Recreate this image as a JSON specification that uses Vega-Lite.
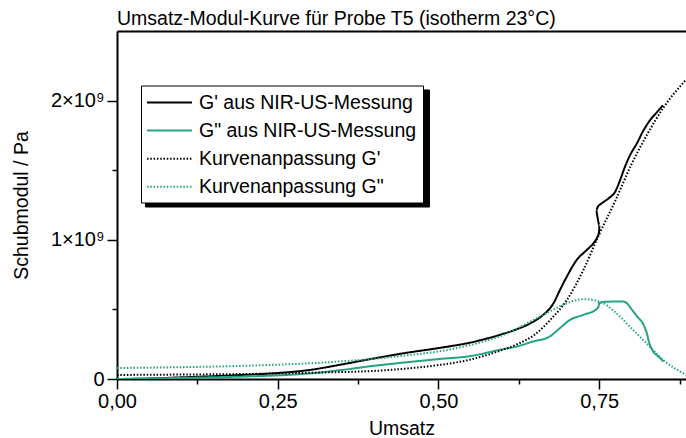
{
  "$schema": "https://vega.github.io/schema/vega-lite/v6.json",
  "width": 569,
  "height": 348,
  "autosize": {"type": "none"},
  "padding": {"left": 117, "top": 31, "right": 0, "bottom": 59},
  "background": "white",
  "title": {"text": "Umsatz-Modul-Kurve für Probe T5 (isotherm 23°C)", "anchor": "start", "frame": "group", "font": "Liberation Sans", "fontSize": 19.5, "fontWeight": "normal", "color": "black", "offset": 2},
  "config": {
    "view": {"stroke": null},
    "axis": {"domainColor": "black", "domainWidth": 2, "tickColor": "black", "tickWidth": 1.5, "labelFont": "Liberation Sans", "labelFontSize": 20, "labelColor": "black", "titleFont": "Liberation Sans", "titleFontSize": 19.5, "titleFontWeight": "normal", "titleColor": "black", "grid": false}
  },
  "data": {"values": [
    {"s": "G' aus NIR-US-Messung", "i": 1, "x": 0, "y": 0},
    {"s": "G' aus NIR-US-Messung", "i": 2, "x": 0.05, "y": 3e6},
    {"s": "G' aus NIR-US-Messung", "i": 3, "x": 0.1, "y": 1.2e7},
    {"s": "G' aus NIR-US-Messung", "i": 4, "x": 0.15, "y": 2.0e7},
    {"s": "G' aus NIR-US-Messung", "i": 5, "x": 0.2, "y": 3.0e7},
    {"s": "G' aus NIR-US-Messung", "i": 6, "x": 0.25, "y": 4.3e7},
    {"s": "G' aus NIR-US-Messung", "i": 7, "x": 0.3, "y": 6.5e7},
    {"s": "G' aus NIR-US-Messung", "i": 8, "x": 0.35, "y": 1.05e8},
    {"s": "G' aus NIR-US-Messung", "i": 9, "x": 0.4, "y": 1.48e8},
    {"s": "G' aus NIR-US-Messung", "i": 10, "x": 0.45, "y": 1.88e8},
    {"s": "G' aus NIR-US-Messung", "i": 11, "x": 0.5, "y": 2.22e8},
    {"s": "G' aus NIR-US-Messung", "i": 12, "x": 0.55, "y": 2.62e8},
    {"s": "G' aus NIR-US-Messung", "i": 13, "x": 0.596, "y": 3.18e8},
    {"s": "G' aus NIR-US-Messung", "i": 14, "x": 0.622, "y": 3.58e8},
    {"s": "G' aus NIR-US-Messung", "i": 15, "x": 0.648, "y": 4.13e8},
    {"s": "G' aus NIR-US-Messung", "i": 16, "x": 0.663, "y": 4.61e8},
    {"s": "G' aus NIR-US-Messung", "i": 17, "x": 0.679, "y": 5.45e8},
    {"s": "G' aus NIR-US-Messung", "i": 18, "x": 0.689, "y": 6.4e8},
    {"s": "G' aus NIR-US-Messung", "i": 19, "x": 0.6996, "y": 7.35e8},
    {"s": "G' aus NIR-US-Messung", "i": 20, "x": 0.715, "y": 8.55e8},
    {"s": "G' aus NIR-US-Messung", "i": 21, "x": 0.7307, "y": 9.27e8},
    {"s": "G' aus NIR-US-Messung", "i": 22, "x": 0.741, "y": 9.75e8},
    {"s": "G' aus NIR-US-Messung", "i": 23, "x": 0.7462, "y": 1.011e9},
    {"s": "G' aus NIR-US-Messung", "i": 24, "x": 0.7498, "y": 1.058e9},
    {"s": "G' aus NIR-US-Messung", "i": 25, "x": 0.7503, "y": 1.106e9},
    {"s": "G' aus NIR-US-Messung", "i": 26, "x": 0.7472, "y": 1.166e9},
    {"s": "G' aus NIR-US-Messung", "i": 27, "x": 0.7452, "y": 1.214e9},
    {"s": "G' aus NIR-US-Messung", "i": 28, "x": 0.7478, "y": 1.237e9},
    {"s": "G' aus NIR-US-Messung", "i": 29, "x": 0.754, "y": 1.262e9},
    {"s": "G' aus NIR-US-Messung", "i": 30, "x": 0.7644, "y": 1.297e9},
    {"s": "G' aus NIR-US-Messung", "i": 31, "x": 0.7748, "y": 1.345e9},
    {"s": "G' aus NIR-US-Messung", "i": 32, "x": 0.7825, "y": 1.429e9},
    {"s": "G' aus NIR-US-Messung", "i": 33, "x": 0.79, "y": 1.524e9},
    {"s": "G' aus NIR-US-Messung", "i": 34, "x": 0.798, "y": 1.608e9},
    {"s": "G' aus NIR-US-Messung", "i": 35, "x": 0.8085, "y": 1.692e9},
    {"s": "G' aus NIR-US-Messung", "i": 36, "x": 0.819, "y": 1.787e9},
    {"s": "G' aus NIR-US-Messung", "i": 37, "x": 0.829, "y": 1.859e9},
    {"s": "G' aus NIR-US-Messung", "i": 38, "x": 0.84, "y": 1.918e9},
    {"s": "G' aus NIR-US-Messung", "i": 39, "x": 0.849, "y": 1.966e9},

    {"s": "G\" aus NIR-US-Messung", "i": 1, "x": 0, "y": 0},
    {"s": "G\" aus NIR-US-Messung", "i": 2, "x": 0.1, "y": 8e6},
    {"s": "G\" aus NIR-US-Messung", "i": 3, "x": 0.2, "y": 1.8e7},
    {"s": "G\" aus NIR-US-Messung", "i": 4, "x": 0.25, "y": 2.6e7},
    {"s": "G\" aus NIR-US-Messung", "i": 5, "x": 0.3, "y": 4.0e7},
    {"s": "G\" aus NIR-US-Messung", "i": 6, "x": 0.35, "y": 6.5e7},
    {"s": "G\" aus NIR-US-Messung", "i": 7, "x": 0.4, "y": 9.5e7},
    {"s": "G\" aus NIR-US-Messung", "i": 8, "x": 0.45, "y": 1.2e8},
    {"s": "G\" aus NIR-US-Messung", "i": 9, "x": 0.5, "y": 1.43e8},
    {"s": "G\" aus NIR-US-Messung", "i": 10, "x": 0.55, "y": 1.65e8},
    {"s": "G\" aus NIR-US-Messung", "i": 11, "x": 0.596, "y": 2.1e8},
    {"s": "G\" aus NIR-US-Messung", "i": 12, "x": 0.622, "y": 2.34e8},
    {"s": "G\" aus NIR-US-Messung", "i": 13, "x": 0.6476, "y": 2.7e8},
    {"s": "G\" aus NIR-US-Messung", "i": 14, "x": 0.673, "y": 3.05e8},
    {"s": "G\" aus NIR-US-Messung", "i": 15, "x": 0.689, "y": 3.66e8},
    {"s": "G\" aus NIR-US-Messung", "i": 16, "x": 0.7047, "y": 4.25e8},
    {"s": "G\" aus NIR-US-Messung", "i": 17, "x": 0.7254, "y": 4.61e8},
    {"s": "G\" aus NIR-US-Messung", "i": 18, "x": 0.746, "y": 5.02e8},
    {"s": "G\" aus NIR-US-Messung", "i": 19, "x": 0.751, "y": 5.3e8},
    {"s": "G\" aus NIR-US-Messung", "i": 20, "x": 0.748, "y": 5.45e8},
    {"s": "G\" aus NIR-US-Messung", "i": 21, "x": 0.76, "y": 5.55e8},
    {"s": "G\" aus NIR-US-Messung", "i": 22, "x": 0.772, "y": 5.56e8},
    {"s": "G\" aus NIR-US-Messung", "i": 23, "x": 0.788, "y": 5.56e8},
    {"s": "G\" aus NIR-US-Messung", "i": 24, "x": 0.803, "y": 4.85e8},
    {"s": "G\" aus NIR-US-Messung", "i": 25, "x": 0.809, "y": 4.49e8},
    {"s": "G\" aus NIR-US-Messung", "i": 26, "x": 0.819, "y": 3.89e8},
    {"s": "G\" aus NIR-US-Messung", "i": 27, "x": 0.824, "y": 3.3e8},
    {"s": "G\" aus NIR-US-Messung", "i": 28, "x": 0.828, "y": 2.58e8},
    {"s": "G\" aus NIR-US-Messung", "i": 29, "x": 0.834, "y": 1.98e8},
    {"s": "G\" aus NIR-US-Messung", "i": 30, "x": 0.842, "y": 1.62e8},
    {"s": "G\" aus NIR-US-Messung", "i": 31, "x": 0.85, "y": 1.26e8},

    {"s": "Kurvenanpassung G'", "i": 1, "x": 0, "y": 2.9e7},
    {"s": "Kurvenanpassung G'", "i": 2, "x": 0.1, "y": 3.2e7},
    {"s": "Kurvenanpassung G'", "i": 3, "x": 0.2, "y": 3.6e7},
    {"s": "Kurvenanpassung G'", "i": 4, "x": 0.25, "y": 4.0e7},
    {"s": "Kurvenanpassung G'", "i": 5, "x": 0.3, "y": 4.5e7},
    {"s": "Kurvenanpassung G'", "i": 6, "x": 0.35, "y": 5.0e7},
    {"s": "Kurvenanpassung G'", "i": 7, "x": 0.4, "y": 5.8e7},
    {"s": "Kurvenanpassung G'", "i": 8, "x": 0.45, "y": 7.5e7},
    {"s": "Kurvenanpassung G'", "i": 9, "x": 0.5, "y": 1.0e8},
    {"s": "Kurvenanpassung G'", "i": 10, "x": 0.55, "y": 1.4e8},
    {"s": "Kurvenanpassung G'", "i": 11, "x": 0.6, "y": 2.1e8},
    {"s": "Kurvenanpassung G'", "i": 12, "x": 0.625, "y": 2.55e8},
    {"s": "Kurvenanpassung G'", "i": 13, "x": 0.65, "y": 3.2e8},
    {"s": "Kurvenanpassung G'", "i": 14, "x": 0.675, "y": 4.3e8},
    {"s": "Kurvenanpassung G'", "i": 15, "x": 0.7, "y": 5.7e8},
    {"s": "Kurvenanpassung G'", "i": 16, "x": 0.725, "y": 7.8e8},
    {"s": "Kurvenanpassung G'", "i": 17, "x": 0.75, "y": 1.04e9},
    {"s": "Kurvenanpassung G'", "i": 18, "x": 0.775, "y": 1.28e9},
    {"s": "Kurvenanpassung G'", "i": 19, "x": 0.8, "y": 1.54e9},
    {"s": "Kurvenanpassung G'", "i": 20, "x": 0.825, "y": 1.76e9},
    {"s": "Kurvenanpassung G'", "i": 21, "x": 0.85, "y": 1.95e9},
    {"s": "Kurvenanpassung G'", "i": 22, "x": 0.885, "y": 2.15e9},

    {"s": "Kurvenanpassung G\"", "i": 1, "x": 0, "y": 7.9e7},
    {"s": "Kurvenanpassung G\"", "i": 2, "x": 0.1, "y": 8.5e7},
    {"s": "Kurvenanpassung G\"", "i": 3, "x": 0.2, "y": 9.5e7},
    {"s": "Kurvenanpassung G\"", "i": 4, "x": 0.25, "y": 1.03e8},
    {"s": "Kurvenanpassung G\"", "i": 5, "x": 0.3, "y": 1.13e8},
    {"s": "Kurvenanpassung G\"", "i": 6, "x": 0.35, "y": 1.27e8},
    {"s": "Kurvenanpassung G\"", "i": 7, "x": 0.4, "y": 1.45e8},
    {"s": "Kurvenanpassung G\"", "i": 8, "x": 0.45, "y": 1.7e8},
    {"s": "Kurvenanpassung G\"", "i": 9, "x": 0.5, "y": 1.98e8},
    {"s": "Kurvenanpassung G\"", "i": 10, "x": 0.55, "y": 2.45e8},
    {"s": "Kurvenanpassung G\"", "i": 11, "x": 0.6, "y": 3.15e8},
    {"s": "Kurvenanpassung G\"", "i": 12, "x": 0.65, "y": 4.3e8},
    {"s": "Kurvenanpassung G\"", "i": 13, "x": 0.675, "y": 4.9e8},
    {"s": "Kurvenanpassung G\"", "i": 14, "x": 0.7, "y": 5.45e8},
    {"s": "Kurvenanpassung G\"", "i": 15, "x": 0.725, "y": 5.73e8},
    {"s": "Kurvenanpassung G\"", "i": 16, "x": 0.75, "y": 5.58e8},
    {"s": "Kurvenanpassung G\"", "i": 17, "x": 0.775, "y": 4.8e8},
    {"s": "Kurvenanpassung G\"", "i": 18, "x": 0.8, "y": 3.65e8},
    {"s": "Kurvenanpassung G\"", "i": 19, "x": 0.825, "y": 2.5e8},
    {"s": "Kurvenanpassung G\"", "i": 20, "x": 0.85, "y": 1.35e8},
    {"s": "Kurvenanpassung G\"", "i": 21, "x": 0.885, "y": 3.1e7}
  ]},
  "layer": [
    {
      "mark": {"type": "line", "strokeWidth": 2, "clip": true, "interpolate": "monotone"},
      "encoding": {
        "x": {"field": "x", "type": "quantitative", "scale": {"domain": [0, 0.885], "nice": false, "zero": false},
          "axis": {"title": "Umsatz", "values": [0, 0.125, 0.25, 0.375, 0.5, 0.625, 0.75, 0.875],
            "labelExpr": "(datum.value*8) % 2 == 0 ? replace(format(datum.value, '.2f'), '.', ',') : ''",
            "tickSize": {"condition": {"test": "(datum.value*8) % 2 == 0", "value": 10}, "value": 5},
            "labelPadding": 2, "labelFlush": false, "titlePadding": 8}},
        "y": {"field": "y", "type": "quantitative", "scale": {"domain": [0, 2500000000], "nice": false},
          "axis": {"title": "Schubmodul / Pa", "values": [0, 500000000, 1000000000, 1500000000, 2000000000],
            "labelExpr": "datum.value == 0 ? '0' : (datum.value % 1000000000 == 0 ? format(datum.value/1000000000, 'd') + '×10⁹' : '')",
            "tickSize": {"condition": {"test": "datum.value % 1000000000 == 0", "value": 10}, "value": 5},
            "labelPadding": 3, "titlePadding": 19}},
        "order": {"field": "i", "type": "quantitative"},
        "color": {"field": "s", "type": "nominal",
          "scale": {"domain": ["G' aus NIR-US-Messung", "G\" aus NIR-US-Messung", "Kurvenanpassung G'", "Kurvenanpassung G\""], "range": ["#000000", "#23a383", "#000000", "#23a383"]},
          "legend": {"title": null, "orient": "none", "legendX": 24, "legendY": 54.5, "zindex": 2, "strokeColor": "black", "fillColor": "white", "padding": 6,
            "symbolType": "M-2.25,0H2.25", "symbolSize": 400, "symbolStrokeWidth": 2, "symbolOffset": 11.5, "labelFont": "Liberation Sans", "labelFontSize": 19.5, "labelColor": "black", "labelOffset": 18.5, "rowPadding": 7.1, "labelLimit": 400}},
        "strokeDash": {"field": "s", "type": "nominal",
          "scale": {"domain": ["G' aus NIR-US-Messung", "G\" aus NIR-US-Messung", "Kurvenanpassung G'", "Kurvenanpassung G\""], "range": [[1, 0], [1, 0], [1.5, 1.8], [1.5, 1.8]]},
          "legend": {"title": null, "orient": "none", "legendX": 24, "legendY": 54.5, "zindex": 2, "strokeColor": "black", "fillColor": "white", "padding": 6,
            "symbolType": "M-2.25,0H2.25", "symbolSize": 400, "symbolStrokeWidth": 2, "symbolOffset": 11.5, "labelFont": "Liberation Sans", "labelFontSize": 19.5, "labelColor": "black", "labelOffset": 18.5, "rowPadding": 7.1, "labelLimit": 400}}
      }
    },
    {
      "mark": {"type": "line", "strokeOpacity": 0},
      "encoding": {
        "x": {"field": "x", "type": "quantitative", "axis": {"orient": "top", "labels": false, "ticks": false, "title": null, "domainWidth": 2}},
        "y": {"field": "y", "type": "quantitative"},
        "order": {"field": "i", "type": "quantitative"},
        "opacity": {"field": "s", "type": "nominal",
          "scale": {"domain": ["Kurvenanpassung G\"", "Kurvenanpassung G'", "G\" aus NIR-US-Messung", "G' aus NIR-US-Messung"], "range": [1, 1, 1, 1]},
          "legend": {"title": null, "orient": "none", "legendX": 28, "legendY": 58.5, "zindex": 1, "strokeColor": "black", "fillColor": "black", "padding": 6,
            "symbolType": "M-2.25,0H2.25", "symbolSize": 400, "symbolStrokeWidth": 2, "symbolStrokeColor": "black", "symbolOffset": 11.5, "labelExpr": "''", "labelFontSize": 19.5, "labelOffset": 238.5, "rowPadding": 7.1}}
      }
    }
  ],
  "resolve": {"axis": {"x": "independent"}}
}
